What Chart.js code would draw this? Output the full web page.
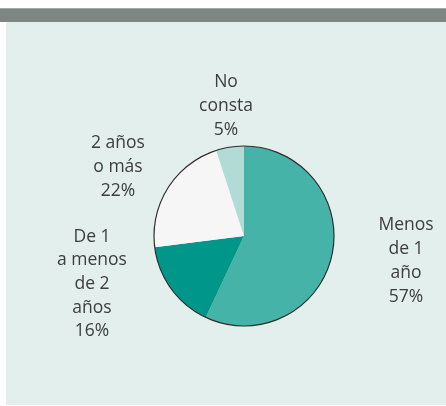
<!DOCTYPE html>
<html>
<head>
<meta charset="utf-8">
<script src="https://cdn.jsdelivr.net/npm/chart.js@4"></script>
<style>
  html, body { margin: 0; padding: 0; background: #fff; }
  body { width: 446px; height: 406px; position: relative; overflow: hidden; }
  #topbar { position: absolute; left: 0; top: 8px; width: 446px; height: 14px;
            background: #7e8683; border-top: 1px solid #a3aba8; box-sizing: border-box; }
  #panel { position: absolute; left: 6px; top: 22px; width: 440px; height: 383px; background: #e2efec; }
</style>
</head>
<body>
<div id="topbar"></div>
<div id="panel"><canvas id="pie" width="440" height="383"></canvas></div>
<script>
// data
const categories = ['Menos de 1 año', 'De 1 a menos de 2 años', '2 años o más', 'No consta'];
const values = [57, 16, 22, 5];
const labelLines = [
  ['Menos', 'de 1', 'año'],
  ['De 1', 'a menos', 'de 2', 'años'],
  ['2 años', 'o más'],
  ['No', 'consta']
];
const colors = ['#45b3a8', '#00968a', '#f6f6f6', '#b3dbd5'];

// where each text block sits, relative to the pie centre
const labelOffsets = [[162, 25], [-152, 48], [-126, -69], [-18, -130]];

// thin dark outline round the pie, no lines between slices
const outlinePlugin = {
  id: 'outline',
  afterDatasetsDraw(chart) {
    const arc = chart.getDatasetMeta(0).data[0];
    if (!arc) return;
    const ctx = chart.ctx;
    ctx.save();
    ctx.beginPath();
    ctx.arc(arc.x, arc.y, arc.outerRadius, 0, Math.PI * 2);
    ctx.strokeStyle = '#2e2e2e';
    ctx.lineWidth = 1.2;
    ctx.stroke();
    ctx.restore();
  }
};

// outside labels: name lines plus percentage
const labelPlugin = {
  id: 'sliceLabels',
  afterDraw(chart) {
    const meta = chart.getDatasetMeta(0);
    const ctx = chart.ctx;
    const lineH = 23.7;
    ctx.save();
    ctx.font = '17.5px "Open Sans", sans-serif';
    ctx.fillStyle = '#3d3d3d';
    ctx.textAlign = 'center';
    ctx.textBaseline = 'middle';
    meta.data.forEach((arc, i) => {
      const lines = labelLines[i].concat([values[i] + '%']);
      const cx = arc.x + labelOffsets[i][0];
      const cy = arc.y + labelOffsets[i][1];
      const top = cy - (lines.length - 1) * lineH / 2;
      lines.forEach((t, j) => ctx.fillText(t, cx, top + j * lineH));
    });
    ctx.restore();
  }
};

new Chart(document.getElementById('pie'), {
  type: 'pie',
  data: {
    labels: categories,
    datasets: [{
      data: values,
      backgroundColor: colors,
      borderWidth: 0
    }]
  },
  options: {
    responsive: false,
    animation: false,
    layout: { padding: { left: 148, right: 112, top: 124, bottom: 79 } },
    plugins: {
      legend: { display: false },
      tooltip: { enabled: false }
    }
  },
  plugins: [outlinePlugin, labelPlugin]
});
</script>
</body>
</html>
